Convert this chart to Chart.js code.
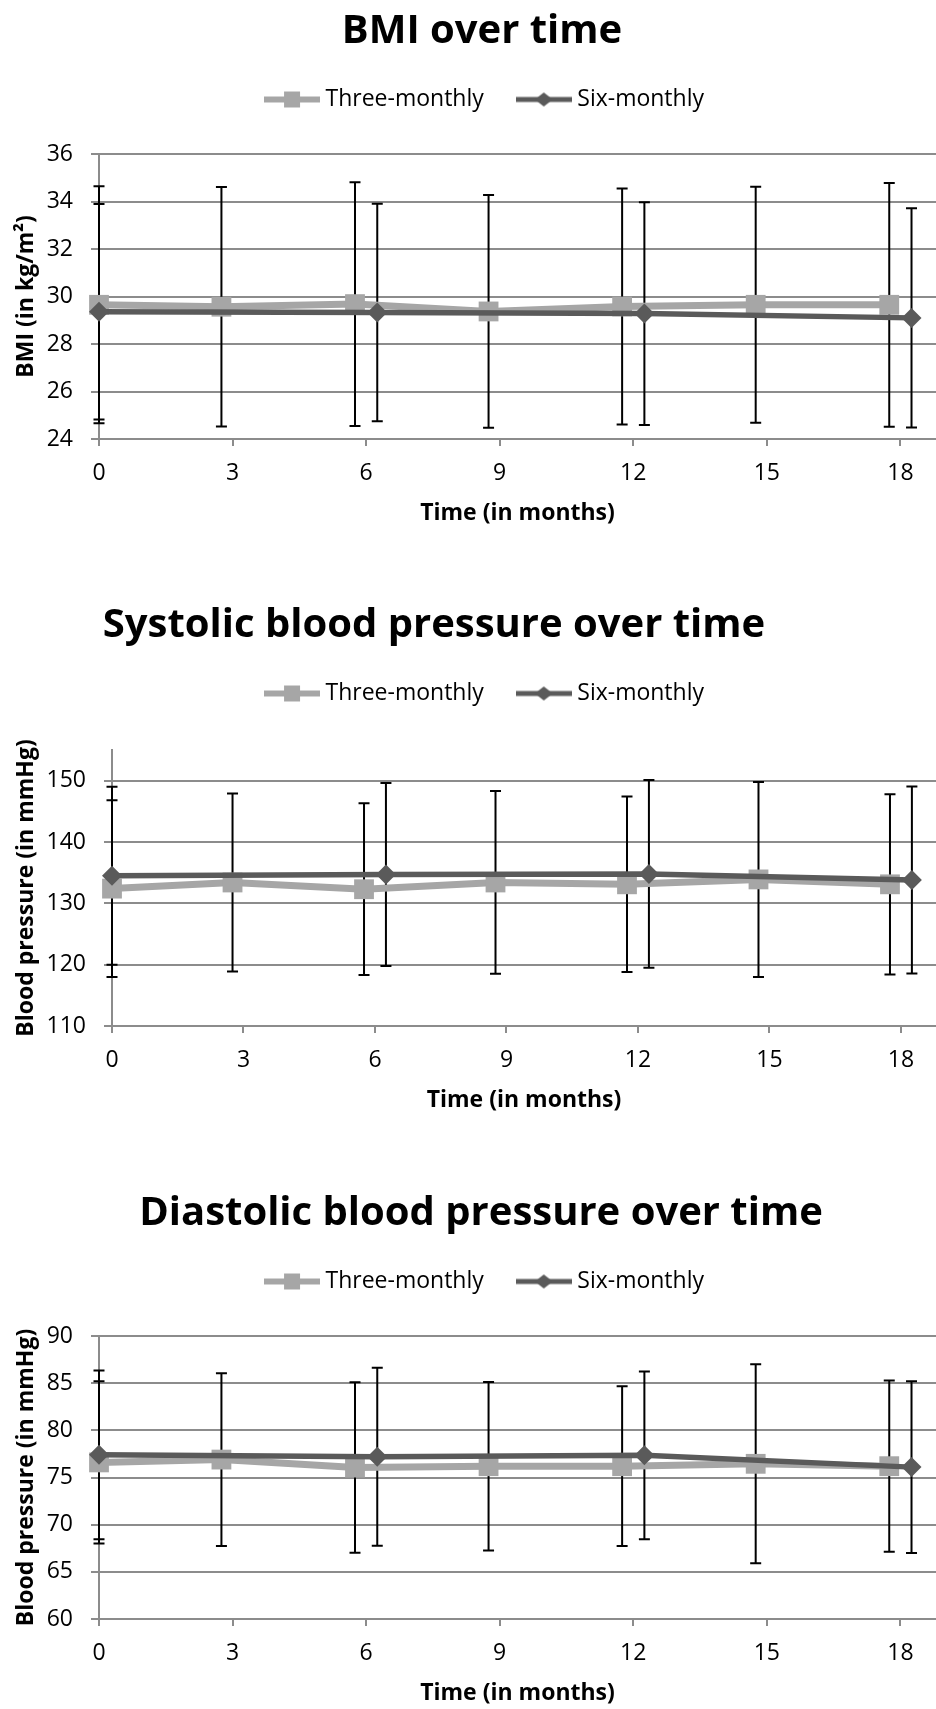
<!DOCTYPE html>
<html>
<head>
<meta charset="utf-8">
<title>BMI and blood pressure over time</title>
<style>
  body { margin: 0; background: #fff; }
  .page { position: relative; width: 936px; height: 1709px; overflow: hidden; }
  .chart-box { position: absolute; left: 0; width: 936px; }
</style>
</head>
<body>
<div class="page">
  <div class="chart-box" style="top:0px;height:527px"><canvas id="bmiChart"></canvas></div>
  <div class="chart-box" style="top:594px;height:520px"><canvas id="sysChart"></canvas></div>
  <div class="chart-box" style="top:1182px;height:525px"><canvas id="diaChart"></canvas></div>
</div>

<script src="https://cdn.jsdelivr.net/npm/chart.js"></script>
<script>
  // months shown on the x axis
  const monthTicks = [0, 3, 6, 9, 12, 15, 18];
  // visit positions, the two groups are drawn a little apart
  const threeMonthlyX = [0, 2.75, 5.75, 8.75, 11.75, 14.75, 17.75];
  const sixMonthlyX = [0, 6.25, 12.25, 18.25];

  // BMI (kg/m2), mean and SD
  const bmiThree = [29.65, 29.57, 29.68, 29.37, 29.58, 29.65, 29.65];
  const bmiThreeSd = [4.99, 5.04, 5.13, 4.9, 4.97, 4.97, 5.13];
  const bmiSix = [29.36, 29.33, 29.28, 29.1];
  const bmiSixSd = [4.54, 4.58, 4.69, 4.62];
  const bmiTicks = [24, 26, 28, 30, 32, 34, 36];

  // systolic blood pressure (mmHg)
  const sysThree = [132.4, 133.4, 132.3, 133.4, 133.1, 133.9, 133.1];
  const sysThreeSd = [14.4, 14.5, 14.0, 14.9, 14.3, 15.9, 14.7];
  const sysSix = [134.5, 134.7, 134.8, 133.8];
  const sysSixSd = [14.5, 14.9, 15.3, 15.25];
  const sysTicks = [110, 120, 130, 140, 150];

  // diastolic blood pressure (mmHg)
  const diaThree = [76.6, 76.9, 76.05, 76.2, 76.2, 76.45, 76.2];
  const diaThreeSd = [8.6, 9.15, 9.04, 8.93, 8.47, 10.55, 9.07];
  const diaSix = [77.4, 77.2, 77.35, 76.1];
  const diaSixSd = [8.95, 9.44, 8.9, 9.1];
  const diaTicks = [60, 65, 70, 75, 80, 85, 90];

  Chart.defaults.font.family = "'Open Sans', sans-serif";
  Chart.defaults.color = '#000';

  const lightGrey = '#a6a6a6';
  const darkGrey = '#5a5a5a';
  const gridGrey = '#8c8c8c';

  function toPoints(xs, ys) {
    return xs.map((x, i) => ({ x: x, y: ys[i] }));
  }

  // line + marker sample for the legend, like the office legend
  function legendIcon(color, lineWidth, shape) {
    const c = document.createElement('canvas');
    c.width = 56;
    c.height = 24;
    const g = c.getContext('2d');
    g.strokeStyle = color;
    g.fillStyle = color;
    g.lineWidth = lineWidth;
    g.beginPath();
    g.moveTo(0, 12);
    g.lineTo(56, 12);
    g.stroke();
    if (shape === 'square') {
      g.fillRect(20, 4, 16, 16);
    } else {
      g.beginPath();
      g.moveTo(28, 5);
      g.lineTo(37, 12);
      g.lineTo(28, 19);
      g.lineTo(19, 12);
      g.closePath();
      g.fill();
    }
    return c;
  }
  const legendIcons = [legendIcon(lightGrey, 6, 'square'), legendIcon(darkGrey, 5, 'diamond')];

  // +/- SD bars, drawn under the lines
  const errorBars = {
    id: 'errorBars',
    beforeDatasetsDraw(chart) {
      const ctx = chart.ctx;
      const xScale = chart.scales.x;
      const yScale = chart.scales.y;
      ctx.save();
      ctx.strokeStyle = '#000';
      ctx.lineWidth = 2;
      chart.data.datasets.forEach(ds => {
        ds.data.forEach((p, i) => {
          const x = xScale.getPixelForValue(p.x);
          const top = yScale.getPixelForValue(p.y + ds.sd[i]);
          const bottom = yScale.getPixelForValue(p.y - ds.sd[i]);
          ctx.beginPath();
          ctx.moveTo(x, top);
          ctx.lineTo(x, bottom);
          ctx.moveTo(x - 5.5, top);
          ctx.lineTo(x + 5.5, top);
          ctx.moveTo(x - 5.5, bottom);
          ctx.lineTo(x + 5.5, bottom);
          ctx.stroke();
        });
      });
      ctx.restore();
    }
  };

  // legend height and title / legend offsets as in the original layout
  const boxTweaks = {
    id: 'boxTweaks',
    beforeInit(chart, args, opts) {
      const legend = chart.legend;
      const fit = legend.fit;
      legend.fit = function () {
        fit.call(this);
        this.height = opts.legendHeight;
      };
    },
    afterLayout(chart, args, opts) {
      chart.titleBlock.left += opts.titleShift;
      chart.titleBlock.right += opts.titleShift;
      chart.legend.left += opts.legendShift;
      chart.legend.right += opts.legendShift;
    }
  };

  function makeChart(id, cfg) {
    return new Chart(document.getElementById(id), {
      type: 'scatter',
      data: {
        datasets: [
          {
            label: 'Three-monthly',
            data: toPoints(threeMonthlyX, cfg.three),
            sd: cfg.threeSd,
            showLine: true,
            borderColor: lightGrey,
            backgroundColor: lightGrey,
            borderWidth: 7,
            pointStyle: 'rect',
            pointRadius: 14,
            pointBorderWidth: 0,
            clip: false,
            order: 2
          },
          {
            label: 'Six-monthly',
            data: toPoints(sixMonthlyX, cfg.six),
            sd: cfg.sixSd,
            showLine: true,
            borderColor: darkGrey,
            backgroundColor: darkGrey,
            borderWidth: 5.5,
            pointStyle: 'rectRot',
            pointRadius: 10,
            pointBorderWidth: 0,
            clip: false,
            order: 1
          }
        ]
      },
      options: {
        responsive: true,
        maintainAspectRatio: false,
        animation: false,
        layout: { padding: 0, autoPadding: false },
        plugins: {
          title: {
            display: true,
            text: cfg.title,
            color: '#000',
            font: { size: 40, weight: 'bold', lineHeight: 1 },
            padding: { top: 12, bottom: -2 }
          },
          legend: {
            labels: {
              usePointStyle: true,
              pointStyleWidth: 44,
              padding: 38,
              color: '#000',
              font: { size: 23 },
              sort: (a, b) => a.datasetIndex - b.datasetIndex,
              generateLabels(chart) {
                const items = Chart.defaults.plugins.legend.labels.generateLabels(chart);
                items.forEach(it => { it.pointStyle = legendIcons[it.datasetIndex]; });
                return items;
              }
            }
          },
          tooltip: { enabled: false },
          boxTweaks: { legendHeight: cfg.legendHeight, titleShift: cfg.titleShift, legendShift: 19 }
        },
        scales: {
          x: {
            type: 'linear',
            min: 0,
            max: 18.8,
            afterBuildTicks: s => { s.ticks = monthTicks.map(v => ({ value: v })); },
            afterFit: s => { s.height = 88; },
            ticks: { font: { size: 23 }, padding: 14, color: '#000' },
            grid: { drawOnChartArea: false, color: gridGrey, lineWidth: 2, tickLength: 7 },
            border: { color: gridGrey, width: 2 },
            title: {
              display: true,
              text: 'Time (in months)',
              color: '#000',
              font: { size: 23, weight: 'bold' },
              padding: { top: 0, bottom: 0 }
            }
          },
          y: {
            min: cfg.min,
            max: cfg.max,
            afterBuildTicks: s => { s.ticks = cfg.ticks.map(v => ({ value: v })); },
            afterFit: s => { s.width = cfg.axisWidth; },
            ticks: { font: { size: 23 }, padding: 18, color: '#000' },
            grid: { color: gridGrey, lineWidth: 2, tickLength: 8 },
            border: { color: gridGrey, width: 2 },
            title: {
              display: true,
              text: cfg.yTitle,
              color: '#000',
              font: { size: 23, weight: 'bold' },
              padding: { top: 13, bottom: 0 }
            }
          }
        }
      },
      plugins: [errorBars, boxTweaks]
    });
  }

  makeChart('bmiChart', {
    title: 'BMI over time',
    yTitle: 'BMI (in kg/m\u00b2)',
    three: bmiThree, threeSd: bmiThreeSd, six: bmiSix, sixSd: bmiSixSd,
    ticks: bmiTicks, min: 24, max: 36,
    axisWidth: 99, legendHeight: 104, titleShift: 14
  });

  makeChart('sysChart', {
    title: 'Systolic blood pressure over time',
    yTitle: 'Blood pressure (in mmHg)',
    three: sysThree, threeSd: sysThreeSd, six: sysSix, sixSd: sysSixSd,
    ticks: sysTicks, min: 110, max: 155,
    axisWidth: 112, legendHeight: 106, titleShift: -34
  });

  makeChart('diaChart', {
    title: 'Diastolic blood pressure over time',
    yTitle: 'Blood pressure (in mmHg)',
    three: diaThree, threeSd: diaThreeSd, six: diaSix, sixSd: diaSixSd,
    ticks: diaTicks, min: 60, max: 90,
    axisWidth: 99, legendHeight: 104, titleShift: 13
  });
</script>
</body>
</html>
